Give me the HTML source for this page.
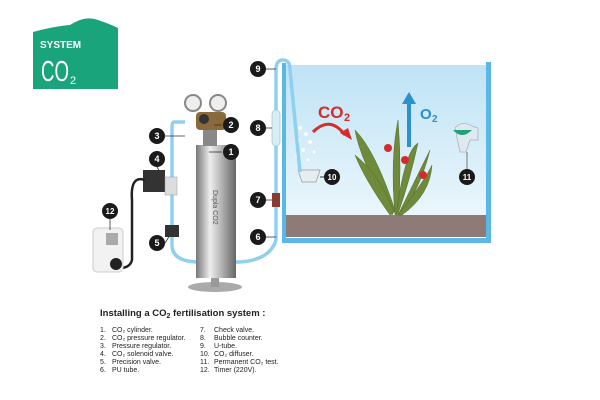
<!DOCTYPE html>
<html><head><style>body{margin:0;background:#fff}svg{display:block}text{font-family:"Liberation Sans",sans-serif}</style></head><body>
<svg width="600" height="400" viewBox="0 0 600 400">
<defs>
<linearGradient id="w" x1="0" y1="0" x2="0" y2="1"><stop offset="0" stop-color="#bfe3f5"/><stop offset="1" stop-color="#eaf6fc"/></linearGradient>
<linearGradient id="cy" x1="0" y1="0" x2="1" y2="0"><stop offset="0" stop-color="#777"/><stop offset=".35" stop-color="#eee"/><stop offset=".6" stop-color="#bbb"/><stop offset="1" stop-color="#666"/></linearGradient>
</defs>
<!-- logo -->
<path d="M33,32 Q55,26 70,25 Q85,15 98,20 Q110,24 118,28 L118,89 L33,89 Z" fill="#19a47b"/>
<text x="40" y="48" font-size="10" font-weight="bold" fill="#fff">SYSTEM</text>
<text x="41" y="81" font-size="29" fill="#fff" textLength="28" lengthAdjust="spacingAndGlyphs">CO</text>
<text x="70" y="84" font-size="11" fill="#fff">2</text>
<!-- tank -->
<rect x="284" y="65" width="205" height="150" fill="url(#w)"/>
<rect x="286" y="215" width="201" height="22" fill="#8e7a76"/>
<rect x="282" y="63" width="4" height="180" fill="#5bb7e6"/>
<rect x="486" y="62" width="5" height="181" fill="#5bb7e6"/>
<rect x="282" y="238" width="209" height="5" fill="#5bb7e6"/>
<!-- bubbles -->
<g fill="#fff" opacity=".9"><circle cx="300" cy="128" r="2"/><circle cx="306" cy="134" r="2"/><circle cx="298" cy="140" r="2"/><circle cx="310" cy="142" r="2"/><circle cx="303" cy="150" r="2"/><circle cx="314" cy="152" r="1.5"/><circle cx="297" cy="156" r="1.5"/><circle cx="308" cy="160" r="1.5"/></g>
<!-- CO2 / O2 -->
<text x="318" y="118" font-size="17" font-weight="bold" fill="#d62b2b">CO</text>
<text x="344" y="121" font-size="11" font-weight="bold" fill="#d62b2b">2</text>
<path d="M313,132 Q330,115 345,135" stroke="#d62b2b" stroke-width="3" fill="none"/>
<path d="M340,133 L352,140 L348,128 Z" fill="#d62b2b"/>
<rect x="407" y="102" width="4" height="45" fill="#2a90d0"/>
<path d="M402,104 L409,92 L416,104 Z" fill="#2a90d0"/>
<text x="420" y="119" font-size="15" font-weight="bold" fill="#2a90d0">O</text>
<text x="432" y="122" font-size="10" font-weight="bold" fill="#2a90d0">2</text>
<!-- plant -->
<g fill="#6f8a3a" stroke="#556b2a" stroke-width=".5">
<path d="M392,215 Q360,160 355,130 Q375,150 395,210Z"/>
<path d="M395,215 Q390,160 398,120 Q402,170 398,212Z"/>
<path d="M398,215 Q420,170 430,150 Q420,190 400,215Z"/>
<path d="M398,215 Q425,180 432,165 Q430,195 402,215Z"/>
<path d="M390,215 Q365,180 355,155 Q380,175 394,212Z"/>
<path d="M396,215 Q405,150 418,143 Q410,180 398,214Z"/>
</g>
<g fill="#d62b2b"><circle cx="388" cy="148" r="4"/><circle cx="405" cy="160" r="4"/><circle cx="423" cy="175" r="4"/></g>
<!-- CO2 test -->
<path d="M455,128 Q462,120 472,126 L478,128 L478,140 L470,140 L466,152 L460,152 Z" fill="#dfe9ef" stroke="#aab" stroke-width=".7"/>
<path d="M453,130 Q462,140 472,130 Z" fill="#22a07a"/>
<line x1="467" y1="152" x2="467" y2="172" stroke="#777"/>
<!-- diffuser -->
<path d="M298,170 L320,170 L316,182 L302,182 Z" fill="#e6eef2" stroke="#999" stroke-width=".7"/>
<line x1="320" y1="177" x2="326" y2="177" stroke="#333"/>
<!-- tubing -->
<path d="M185,122 L174,122 Q172,122 172,128 L172,245 Q172,262 200,262 L240,262 Q270,260 276,240 L276,70 Q276,60 283,60 Q290,60 290,70 L300,172" stroke="#8fd0f0" stroke-width="3.5" fill="none"/>
<rect x="272" y="110" width="8" height="36" rx="4" fill="#d8eef7" stroke="#9bb" stroke-width=".6"/>
<rect x="272" y="193" width="8" height="14" fill="#8a3a30"/>
<!-- cylinder -->
<ellipse cx="215" cy="287" rx="27" ry="5" fill="#aaa"/>
<rect x="211" y="275" width="8" height="12" fill="#999"/>
<rect x="196" y="145" width="40" height="133" fill="url(#cy)"/>
<text x="0" y="0" font-size="7" fill="#555" transform="translate(213,190) rotate(90)">Dupla CO2</text>
<!-- regulator -->
<rect x="203" y="128" width="14" height="18" fill="#888"/>
<rect x="196" y="112" width="30" height="18" rx="4" fill="#8a6a3a"/>
<circle cx="193" cy="103" r="8" fill="#eee" stroke="#888" stroke-width="2"/>
<circle cx="218" cy="103" r="8" fill="#eee" stroke="#888" stroke-width="2"/>
<circle cx="204" cy="119" r="5" fill="#333"/>
<!-- solenoid -->
<rect x="143" y="170" width="22" height="22" fill="#333"/>
<rect x="165" y="177" width="12" height="18" fill="#ddd" stroke="#999" stroke-width=".5"/>
<path d="M145,180 Q130,175 132,200 L132,260 Q130,268 120,268" stroke="#222" stroke-width="2.5" fill="none"/>
<rect x="165" y="225" width="14" height="12" fill="#333"/>
<!-- timer -->
<rect x="93" y="228" width="30" height="44" rx="4" fill="#f2f2f2" stroke="#ccc"/>
<rect x="106" y="233" width="12" height="12" fill="#aaa"/>
<circle cx="116" cy="264" r="6" fill="#222"/>
<!-- numbered callouts -->
<g stroke="#333" stroke-width=".8">
<line x1="222" y1="152" x2="209" y2="152"/><line x1="222" y1="125" x2="214" y2="125"/>
<line x1="165" y1="136" x2="185" y2="136"/><line x1="157" y1="167" x2="160" y2="172"/>
<line x1="165" y1="243" x2="170" y2="235"/><line x1="266" y1="237" x2="276" y2="237"/>
<line x1="266" y1="200" x2="272" y2="200"/><line x1="266" y1="128" x2="272" y2="128"/>
<line x1="266" y1="69" x2="276" y2="69"/><line x1="110" y1="219" x2="110" y2="230"/>
</g>
<g font-size="9" font-weight="bold" fill="#fff" text-anchor="middle">
<circle cx="231" cy="152" r="8" fill="#1a1a1a"/><text x="231" y="155">1</text>
<circle cx="231" cy="125" r="8" fill="#1a1a1a"/><text x="231" y="128">2</text>
<circle cx="157" cy="136" r="8" fill="#1a1a1a"/><text x="157" y="139">3</text>
<circle cx="157" cy="159" r="8" fill="#1a1a1a"/><text x="157" y="162">4</text>
<circle cx="157" cy="243" r="8" fill="#1a1a1a"/><text x="157" y="246">5</text>
<circle cx="258" cy="237" r="8" fill="#1a1a1a"/><text x="258" y="240">6</text>
<circle cx="258" cy="200" r="8" fill="#1a1a1a"/><text x="258" y="203">7</text>
<circle cx="258" cy="128" r="8" fill="#1a1a1a"/><text x="258" y="131">8</text>
<circle cx="258" cy="69" r="8" fill="#1a1a1a"/><text x="258" y="72">9</text>
<circle cx="332" cy="177" r="8" fill="#1a1a1a"/><text x="332" y="180" font-size="8">10</text>
<circle cx="467" cy="177" r="8" fill="#1a1a1a"/><text x="467" y="180" font-size="8">11</text>
<circle cx="110" cy="211" r="8" fill="#1a1a1a"/><text x="110" y="214" font-size="8">12</text>
</g>
<!-- caption -->
<text x="100" y="316" font-size="9.5" font-weight="bold" fill="#222">Installing a CO<tspan font-size="7" dy="2">2</tspan><tspan dy="-2"> fertilisation system :</tspan></text>
<g font-size="7" fill="#222">
<text x="100" y="332">1.</text><text x="112" y="332">CO₂ cylinder.</text>
<text x="100" y="340">2.</text><text x="112" y="340">CO₂ pressure regulator.</text>
<text x="100" y="348">3.</text><text x="112" y="348">Pressure regulator.</text>
<text x="100" y="356">4.</text><text x="112" y="356">CO₂ solenoid valve.</text>
<text x="100" y="364">5.</text><text x="112" y="364">Precision valve.</text>
<text x="100" y="372">6.</text><text x="112" y="372">PU tube.</text>
<text x="200" y="332">7.</text><text x="214" y="332">Check valve.</text>
<text x="200" y="340">8.</text><text x="214" y="340">Bubble counter.</text>
<text x="200" y="348">9.</text><text x="214" y="348">U-tube.</text>
<text x="200" y="356">10.</text><text x="214" y="356">CO₂ diffuser.</text>
<text x="200" y="364">11.</text><text x="214" y="364">Permanent CO₂ test.</text>
<text x="200" y="372">12.</text><text x="214" y="372">Timer (220V).</text>
</g>
</svg>
</body></html>
